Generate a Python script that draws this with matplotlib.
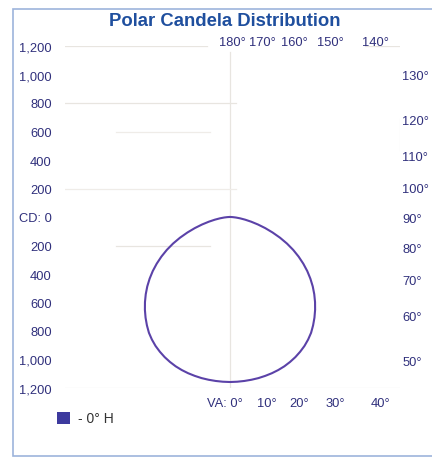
import numpy as np
import matplotlib.pyplot as plt
from matplotlib.patches import Rectangle

# vertical angles (deg from nadir) and candela for the 0° H plane
vert_angles = [0, 2.5, 5, 7.5, 10, 12.5, 15, 17.5, 20, 22.5, 25, 27.5, 30, 32.5, 35, 37.5,
               40, 42.5, 45, 47.5, 50, 52.5, 55, 57.5, 60, 62.5, 65, 67.5, 70, 72.5, 75,
               77.5, 80, 82.5, 85, 87.5, 90]
candela = [1158, 1157, 1155, 1152, 1148, 1142, 1135, 1126, 1115, 1101, 1085, 1066, 1045,
           1020, 992, 958, 922, 884, 844, 802, 758, 711, 662, 610, 556, 500, 441, 380,
           318, 259, 203, 152, 108, 71, 41, 19, 6]

cd_ticks = [1200, 1000, 800, 600, 400, 200, 0, -200, -400, -600, -800, -1000, -1200]
cd_labels = ['1,200', '1,000', '800', '600', '400', '200', 'CD: 0',
             '200', '400', '600', '800', '1,000', '1,200']
top_angles = [180, 170, 160, 150, 140]
side_angles = [130, 120, 110, 100, 90, 80, 70, 60, 50]
bottom_angles = [0, 10, 20, 30, 40]

label_color = '#30307c'
font = 'Liberation Sans'
W, H = 432, 460
xmin, xmax, ylim = -1158, 1193, 1200

fig = plt.figure(figsize=(W / 100, H / 100), dpi=100)
fig.patch.set_facecolor('white')

# outer frame
fig.add_artist(Rectangle((13 / W, 1 - 457 / H), 440 / W, 447 / H, transform=fig.transFigure,
                         facecolor='white', edgecolor='#9db4dc', lw=1.2, zorder=-5))

ax = fig.add_axes([65 / W, 1 - 389 / H, (400 - 65) / W, (389 - 47) / H])
ax.set_xlim(xmin, xmax)
ax.set_ylim(-ylim, ylim)
ax.set_facecolor('none')
for s in ax.spines.values():
    s.set_visible(False)
ax.set_xticks([])
ax.set_yticks(cd_ticks)
ax.set_yticklabels(cd_labels, color=label_color, fontsize=9.3, family=font)
ax.tick_params(axis='y', length=0, pad=9.5)

# faint grid remnants
grid_kw = dict(color='#e8e5e0', lw=0.9, zorder=1)
ax.plot([0, 0], [-ylim, ylim - 40], **grid_kw)
ax.plot([xmin, -160], [1200, 1200], **grid_kw)
ax.plot([950, xmax], [1200, 1200], **grid_kw)
ax.plot([xmin, 40], [800, 800], **grid_kw)
ax.plot([-800, -140], [600, 600], color='#efece8', lw=0.9, zorder=1)
ax.plot([xmin, 40], [200, 200], color='#efece8', lw=0.9, zorder=1)
ax.plot([-800, -140], [-200, -200], **grid_kw)
ax.plot([xmin, xmax], [-1200, -1200], color='#efece8', lw=0.9, zorder=1)
ax.plot([xmax, xmax], [470, 690], color='#dddddd', lw=0.8, zorder=1)

# candela curve, mirrored about nadir
th = np.radians(vert_angles)
r = np.array(candela)
xs = np.concatenate([-(r * np.sin(th))[::-1], (r * np.sin(th))[1:]])
ys = np.concatenate([-(r * np.cos(th))[::-1], -(r * np.cos(th))[1:]])
ax.plot(xs, ys, color='#5b42a8', lw=1.5, zorder=3, solid_joinstyle='round')

# angle labels where rays meet the frame
txt_kw = dict(color=label_color, fontsize=9.3, family=font, clip_on=False)
for a in top_angles:
    t = np.radians(a)
    x = ylim * np.tan(np.pi - t)
    ax.text(x + 15, ylim - 15, f'{a}°', ha='center', va='bottom', **txt_kw)
for a in side_angles:
    t = np.radians(a)
    y = -xmax / np.tan(t)
    ax.text(xmax + 15, y - 15, f'{a}°', ha='left', va='center', **txt_kw)
for a in bottom_angles:
    x = ylim * np.tan(np.radians(a))
    if a == 0:
        ax.text(x + 90, -ylim - 65, f'VA: {a}°', ha='right', va='top', **txt_kw)
    else:
        ax.text(x - 20, -ylim - 65, f'{a}°', ha='left', va='top', **txt_kw)

fig.text(225 / W, 1 - 21 / H, 'Polar Candela Distribution', ha='center', va='center',
         color='#1f4f9e', fontsize=13.3, weight='bold', family=font)

# legend
fig.add_artist(Rectangle((57 / W, 1 - 425 / H), 13 / W, 12 / H, transform=fig.transFigure,
                         facecolor='#3d3a9e', edgecolor='none'))
fig.text(78 / W, 1 - 419 / H, '- 0° H', ha='left', va='center', color='#333333',
         fontsize=10, family=font)

fig.savefig('out.png', dpi=100)
